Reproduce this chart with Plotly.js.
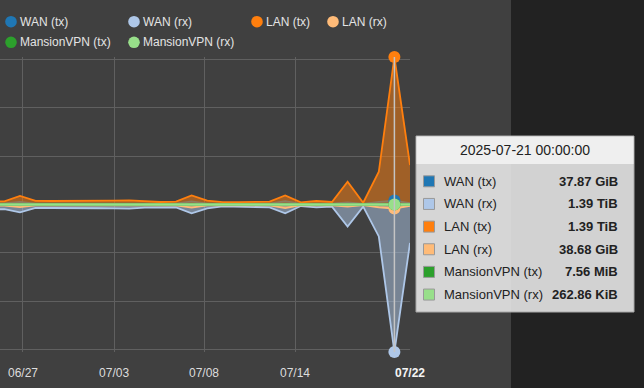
<!DOCTYPE html>
<html><head><meta charset="utf-8">
<script src="https://cdn.plot.ly/plotly-3.0.1.min.js"></script>
<style>html,body{margin:0;padding:0;background:#404040;overflow:hidden}#chart{width:644px;height:388px}</style>
</head><body><div id="chart"></div>
<script>
const dates = ['2025-06-25','2025-06-26','2025-06-27','2025-06-28','2025-06-29','2025-06-30',
  '2025-07-01','2025-07-02','2025-07-03','2025-07-04','2025-07-05','2025-07-06','2025-07-07',
  '2025-07-08','2025-07-09','2025-07-10','2025-07-11','2025-07-12','2025-07-13','2025-07-14',
  '2025-07-15','2025-07-16','2025-07-17','2025-07-18','2025-07-19','2025-07-20','2025-07-21','2025-07-22'];
// traffic in GiB
const wanTx = [9, 10, 24, 9, 9, 8, 9, 10, 9, 10, 8, 7, 8, 30, 9, 7, 7, 8, 8, 33, 7, 9, 8, 20, 6, 26, 37.87, 12];
const wanRx = [48, 45, 75, 33, 34, 33, 35, 36, 38, 40, 30, 26, 28, 85, 37, 18, 20, 24, 27, 85, 15, 27, 21, 213, 21, 308, 1423.36, 371];
const lanTx = [28, 30, 82, 35, 34, 33, 38, 38, 37, 39, 28, 24, 28, 88, 37, 22, 22, 25, 28, 88, 21, 34, 24, 219, 17, 316, 1423.36, 381];
const lanRx = [10, 11, 25, 9, 9, 8, 10, 10, 9, 10, 8, 7, 8, 31, 9, 7, 7, 8, 8, 35, 7, 9, 8, 21, 6, 27, 38.68, 13];
// MansionVPN tx in MiB, rx in KiB
const vpnTxMiB = [6.9, 7.2, 7.4, 7.1, 6.8, 7.0, 7.3, 7.2, 7.5, 7.1, 6.9, 7.0, 7.2, 7.6, 7.3, 7.0, 6.8, 7.1, 7.2, 7.4, 7.0, 7.3, 7.1, 7.5, 7.2, 7.4, 7.56, 3.1];
const vpnRxKiB = [250, 255, 270, 248, 251, 246, 259, 262, 255, 249, 244, 252, 258, 275, 256, 247, 243, 250, 254, 272, 245, 257, 251, 268, 249, 264, 262.86, 110];

const seriesNames = ['WAN (tx)','WAN (rx)','LAN (tx)','LAN (rx)','MansionVPN (tx)','MansionVPN (rx)'];
const seriesColors = ['#1f77b4','#aec7e8','#ff7f0e','#ffbb78','#2ca02c','#98df8a'];
const seriesFills = ['rgba(31,119,180,0.5)','rgba(174,199,232,0.5)','rgba(255,127,14,0.5)','rgba(255,187,120,0.5)','rgba(44,160,44,0.5)','rgba(152,223,138,0.5)'];
const xTickVals = ['2025-06-27 04:35','2025-07-03 00:45','2025-07-08 19:05','2025-07-14 15:05'];
const xTickText = ['06/27','07/03','07/08','07/14'];
const endLabel = '07/22';
const hoverDate = '2025-07-21';
const tooltipTitle = '2025-07-21 00:00:00';

const series = [
  wanTx, wanRx, lanTx, lanRx,
  vpnTxMiB.map(v => v / 1024),
  vpnRxKiB.map(v => v / 1048576)
];
const sign = [1, -1, 1, -1, 1, -1];

function fmt(g) {
  if (g >= 1024) return (g / 1024).toFixed(2) + ' TiB';
  if (g >= 1) return g.toFixed(2) + ' GiB';
  if (g * 1024 >= 1) return (g * 1024).toFixed(2) + ' MiB';
  return (g * 1048576).toFixed(2) + ' KiB';
}

const W = 410, T = 57, B = 352, H = B - T;
const X = px => px / W;
const Y = py => (B - py) / H;

const traces = series.map((s, i) => ({
  x: dates, y: s.map(v => v * sign[i]), type: 'scatter', mode: 'lines',
  line: {color: seriesColors[i], width: i >= 4 ? 2.5 : 1.8},
  fill: 'tozeroy', fillcolor: seriesFills[i], hoverinfo: 'skip', showlegend: false
}));
const hi = dates.indexOf(hoverDate);
traces.push({
  x: series.map(() => dates[hi]), y: series.map((s, i) => s[hi] * sign[i]),
  type: 'scatter', mode: 'markers', cliponaxis: false,
  marker: {size: 12, color: seriesColors, line: {width: 0}}, hoverinfo: 'skip', showlegend: false
});

const maxV = Math.max(...lanTx, ...wanRx);
const gb500 = 500e9 / Math.pow(1024, 3);
const yTicks = [-3, -2, -1, 1, 2, 3].map(k => k * gb500);

const shapes = [];
const annotations = [];
const font = 'Liberation Sans, Arial, sans-serif';

shapes.push({type: 'rect', xref: 'paper', yref: 'paper', x0: X(511), x1: X(660), y0: Y(400), y1: Y(-10),
  fillcolor: '#222222', line: {width: 0}, layer: 'below'});
shapes.push({type: 'line', xref: 'x', yref: 'paper', x0: hoverDate, x1: hoverDate, y0: 0, y1: 1,
  line: {color: '#c4c4c4', width: 1.5}, layer: 'above'});

// legend
const legCx = [11, 134, 257, 333, 11, 134];
const legCy = [21.7, 21.7, 21.7, 21.7, 42.3, 42.3];
seriesNames.forEach((n, i) => {
  shapes.push({type: 'circle', xref: 'paper', yref: 'paper',
    x0: X(legCx[i] - 5.8), x1: X(legCx[i] + 5.8), y0: Y(legCy[i] + 5.8), y1: Y(legCy[i] - 5.8),
    fillcolor: seriesColors[i], line: {width: 0}});
  annotations.push({xref: 'paper', yref: 'paper', x: X(legCx[i] + 7.5), y: Y(legCy[i]), xanchor: 'left', yanchor: 'middle',
    text: n, showarrow: false, borderpad: 0, font: {family: font, size: 12, color: '#e4e4e4'}});
});

// tooltip
shapes.push({type: 'rect', xref: 'paper', yref: 'paper', x0: X(416), x1: X(634), y0: Y(312), y1: Y(136),
  fillcolor: 'rgba(234,234,234,0.88)', line: {color: '#a8a8a8', width: 1}});
shapes.push({type: 'rect', xref: 'paper', yref: 'paper', x0: X(416.5), x1: X(633.5), y0: Y(164), y1: Y(136.5),
  fillcolor: '#efefef', line: {width: 0}});
annotations.push({xref: 'paper', yref: 'paper', x: X(525), y: Y(150), xanchor: 'center', yanchor: 'middle',
  text: tooltipTitle, showarrow: false, font: {family: font, size: 14, color: '#222'}});
seriesNames.forEach((n, i) => {
  const cy = 181.3 + i * 22.65;
  shapes.push({type: 'rect', xref: 'paper', yref: 'paper', x0: X(423.5), x1: X(434.5), y0: Y(cy + 5.5), y1: Y(cy - 5.5),
    fillcolor: seriesColors[i], line: {color: '#999', width: 1}});
  annotations.push({xref: 'paper', yref: 'paper', x: X(443), y: Y(cy), xanchor: 'left', yanchor: 'middle',
    text: n, showarrow: false, borderpad: 0, font: {family: font, size: 13, color: '#222'}});
  annotations.push({xref: 'paper', yref: 'paper', x: X(619), y: Y(cy), xanchor: 'right', yanchor: 'middle',
    text: '<b>' + fmt(series[i][hi]) + '</b>', showarrow: false, borderpad: 0, font: {family: font, size: 13, color: '#222'}});
});

annotations.push({xref: 'x', yref: 'paper', x: dates[dates.length - 1], y: Y(372.5), xanchor: 'center', yanchor: 'middle',
  text: '<b>' + endLabel + '</b>', showarrow: false, font: {family: font, size: 12, color: '#f4f4f4'}});

const layout = {
  width: 644, height: 388,
  margin: {l: 0, r: 644 - W, t: T, b: 388 - B, pad: 0},
  paper_bgcolor: '#404040', plot_bgcolor: '#404040',
  showlegend: false, hovermode: false,
  xaxis: {type: 'date', range: ['2025-06-25 17:14', dates[dates.length - 1]],
    tickvals: xTickVals, ticktext: xTickText, showgrid: true, gridcolor: '#606060', gridwidth: 1,
    zeroline: false, showline: false, ticks: '', ticklabelstandoff: 12,
    tickfont: {family: font, size: 12, color: '#dddddd'}, fixedrange: true},
  yaxis: {range: [-maxV, maxV], tickvals: yTicks, showticklabels: false, showgrid: true,
    gridcolor: '#606060', gridwidth: 1, zeroline: false, showline: false, ticks: '', fixedrange: true},
  shapes: shapes, annotations: annotations
};
Plotly.newPlot('chart', traces, layout, {displayModeBar: false, staticPlot: true});
</script></body></html>
